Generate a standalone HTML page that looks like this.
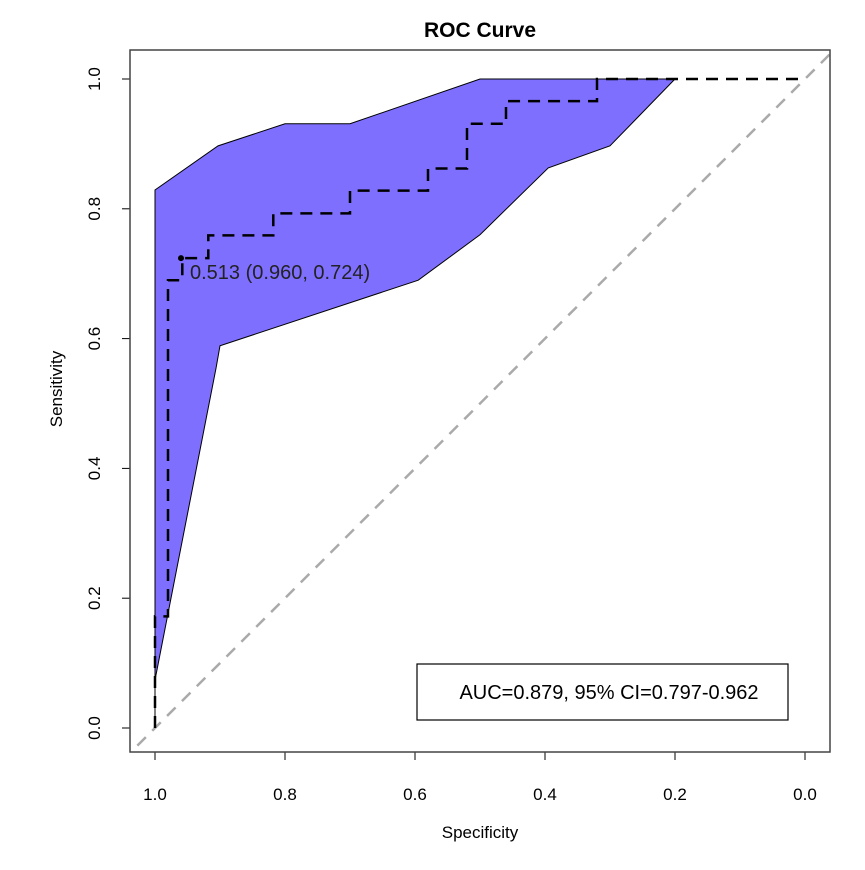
<!DOCTYPE html>
<html><head><meta charset="utf-8"><style>
body{margin:0;background:#fff;}
svg{font-family:"Liberation Sans",Arial,sans-serif;}
</style></head><body>
<svg id="chart" width="865" height="865" viewBox="0 0 865 865">
<defs><clipPath id="pc"><rect x="130" y="50" width="700" height="702"/></clipPath></defs>
<text x="480" y="37" text-anchor="middle" font-size="21" font-weight="bold">ROC Curve</text>
<g id="plot"></g>
<rect x="130" y="50" width="700" height="702" fill="none" stroke="#444" stroke-width="1.5"/>
<text x="480" y="838" text-anchor="middle" font-size="17">Specificity</text>
<text transform="translate(62,389) rotate(-90)" text-anchor="middle" font-size="17">Sensitivity</text>
<rect x="417" y="664" width="371" height="56" fill="#fff" stroke="#000" stroke-width="1.2"/>
<text x="609" y="699" text-anchor="middle" font-size="20">AUC=0.879, 95% CI=0.797-0.962</text>
</svg>
<script>
const ticks=[0,0.2,0.4,0.6,0.8,1.0];
const tickLabels=["0.0","0.2","0.4","0.6","0.8","1.0"];
const ciUpperSpec=[1,1,0.903,0.8,0.7,0.5,0.2];
const ciUpperSens=[0,0.829,0.897,0.931,0.931,1,1];
const ciLowerSpec=[0.2,0.3,0.395,0.5,0.595,0.9,0.906,1,1];
const ciLowerSens=[1,0.897,0.863,0.76,0.69,0.589,0.555,0.074,0];
const rocSpec=[1,1,0.98,0.98,0.958,0.958,0.918,0.918,0.818,0.818,0.7,0.7,0.58,0.58,0.52,0.52,0.46,0.46,0.32,0.32,0];
const rocSens=[0,0.172,0.172,0.69,0.69,0.724,0.724,0.759,0.759,0.793,0.793,0.828,0.828,0.862,0.862,0.931,0.931,0.966,0.966,1,1];
const bestSpec=0.960, bestSens=0.724, bestThr="0.513";
const sx=s=>155+(1-s)*650, sy=v=>728-v*649;
const NS="http://www.w3.org/2000/svg";
const g=document.getElementById('plot');
function mk(t,a){const e=document.createElementNS(NS,t);for(const k in a)e.setAttribute(k,a[k]);g.appendChild(e);return e;}
let pts=[];
ciUpperSpec.forEach((s,i)=>pts.push(sx(s)+','+sy(ciUpperSens[i])));
ciLowerSpec.forEach((s,i)=>pts.push(sx(s)+','+sy(ciLowerSens[i])));
let ci=mk('polygon',{points:pts.join(' '),fill:'#7f6fff',stroke:'#000','stroke-width':1});


let dg=mk('line',{x1:sx(1.05),y1:sy(-0.05),x2:sx(-0.05),y2:sy(1.05),stroke:'#aaa','stroke-width':2.5,'stroke-dasharray':'12,9','clip-path':'url(#pc)'});


let rp=rocSpec.map((s,i)=>sx(s)+','+sy(rocSens[i])).join(' ');
let roc=mk('polyline',{points:rp,fill:'none',stroke:'#000','stroke-width':2.5,'stroke-dasharray':'12,8'});


let bp=mk('circle',{cx:sx(bestSpec),cy:sy(bestSens),r:3,fill:'#000'});


let bt=mk('text',{x:sx(bestSpec)+9,y:sy(bestSens)+21,'font-size':20,fill:'#222'});
bt.textContent=bestThr+' ('+bestSpec.toFixed(3)+', '+bestSens.toFixed(3)+')';


ticks.forEach((t,i)=>{
 let a=mk('line',{x1:sx(t),y1:752,x2:sx(t),y2:760,stroke:'#000'});
 
 
 let l=mk('text',{x:sx(t),y:800,'text-anchor':'middle','font-size':17});
 l.textContent=tickLabels[i];
 
 
 let b=mk('line',{x1:122,y1:sy(t),x2:130,y2:sy(t),stroke:'#000'});
 
 
 let m=mk('text',{transform:`translate(100,${sy(t)}) rotate(-90)`,'text-anchor':'middle','font-size':17});
 m.textContent=tickLabels[i];
 
 
});
</script>
</body></html>
